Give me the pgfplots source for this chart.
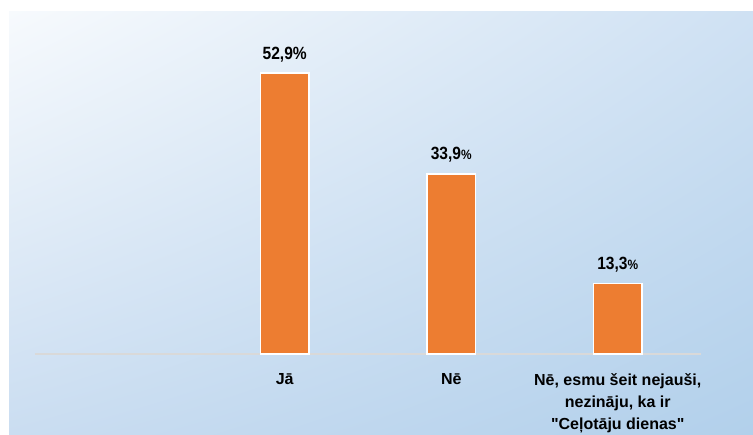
\documentclass[border=0pt]{standalone}
\usepackage{fontspec}
\setmainfont{Liberation Sans}
\newfontfamily\tickfont{Liberation Sans}
\newfontfamily\valfont[FakeStretch=0.88]{Liberation Sans}
\usepackage{pgfplots}
\pgfplotsset{compat=1.18}
\usetikzlibrary{shadings}
\definecolor{barorange}{HTML}{ED7D31}
\definecolor{bgTL}{HTML}{F7FAFD}
\definecolor{bgTR}{HTML}{CFE1F3}
\definecolor{bgBL}{HTML}{CADDF1}
\definecolor{bgBR}{HTML}{B2D0EB}
\definecolor{baseGray}{HTML}{D9D9D9}
\begin{document}
\begin{tikzpicture}[x=1pt,y=1pt]
\path[use as bounding box] (0,0) rectangle (753,435);
\shade[upper left=bgTL, upper right=bgTR, lower left=bgBL, lower right=bgBR] (9,0) rectangle (753,423);
\begin{axis}[
  at={(35pt,81pt)}, anchor=south west,
  scale only axis, width=666pt, height=318.6pt,
  xmin=-0.5, xmax=3.5, ymin=0, ymax=60,
  axis line style={draw=none},
  ytick=\empty,
  xtick={0,1,2,3},
  xticklabels={,Jā,Nē,{Nē, esmu šeit nejauši,\\nezināju, ka ir\\"Ceļotāju dienas"}},
  major tick length=0pt,
  tick style={draw=none},
  xticklabel style={font=\tickfont\fontsize{16}{22}\selectfont\bfseries, align=center, anchor=north, inner sep=0pt, yshift=-19pt},
  ybar, bar width=48.5pt,
  point meta=explicit symbolic,
  nodes near coords,
  every node near coord/.append style={font=\valfont\fontsize{17.7}{18}\selectfont\bfseries, anchor=base, inner sep=0pt, yshift=14pt},
  clip=false,
]
\draw[baseGray, line width=1.5pt] (rel axis cs:0,0) -- (rel axis cs:1,0);
\addplot[fill=barorange, draw=white, line width=1.5pt] coordinates {
  (1,52.9) [{52,9\%}]
  (2,33.9) [{33,9{\fontsize{13.5}{12}\selectfont\%}}]
  (3,13.3) [{13,3{\fontsize{13.5}{12}\selectfont\%}}]
};
\end{axis}
\end{tikzpicture}
\end{document}
